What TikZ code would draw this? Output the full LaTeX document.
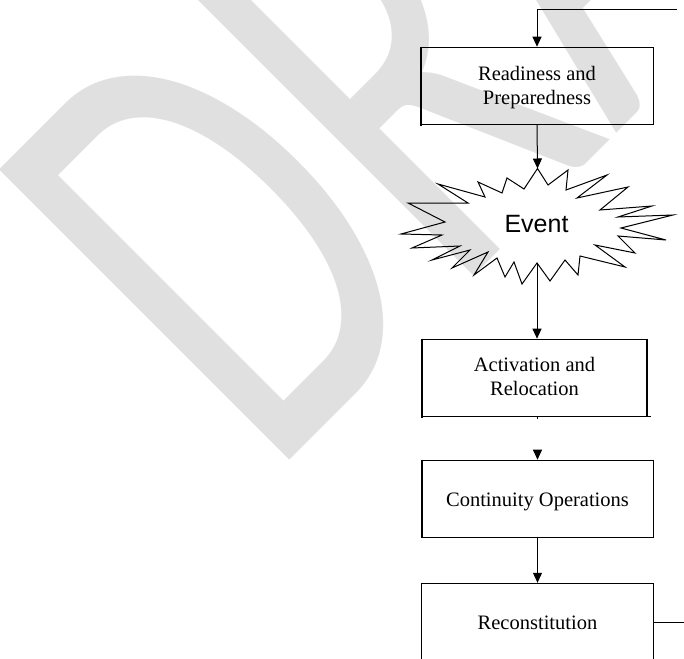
\documentclass[tikz,border=0pt]{standalone}
\usepackage{fontspec}
\setmainfont{Liberation Serif}
\newfontfamily\labelsans{Liberation Sans}
\newfontfamily\stampfont{Carlito}
\usetikzlibrary{arrows.meta}
\definecolor{stampgray}{RGB}{224,224,224}
% a line of box text lowered by #1, taking no vertical room
\newcommand{\sinkline}[2]{\raisebox{-#1}[0pt][0pt]{#2}}
\begin{document}
\begin{tikzpicture}[x=1pt,y=-1pt,
  stage/.style={draw, line width=1pt, minimum width=232pt, minimum height=77pt,
    inner sep=0pt, align=center, font=\fontsize{20.5}{23.5}\selectfont},
  flow/.style={line width=1pt, -{Triangle[length=10pt,width=9pt]}},
  wire/.style={line width=1pt},
  heavy/.style={line width=2.2pt}]
\useasboundingbox (0,0) rectangle (684,658);
\clip (0,0) rectangle (684,658);

% watermark behind everything
\node[anchor=base west, inner sep=0pt, rotate=45, text=stampgray,
  font=\stampfont\fontsize{640}{640}\selectfont] (stamp) at (269,481)
  {\scalebox{0.66}[1]{DRAFT}};

% process stages
\node[stage] (ready) at (537,85.7)
  {\sinkline{7pt}{Readiness and}\\\sinkline{7pt}{Preparedness}};
\node[stage, minimum width=225.6pt] (act) at (534.5,377.7)
  {\sinkline{6pt}{Activation and}\\\sinkline{6.5pt}{Relocation}};
\node[stage] (cont) at (537.5,498.7) {\sinkline{8pt}{Continuity Operations}};
\node[stage] (recon) at (537.5,621.8) {\sinkline{7.5pt}{Reconstitution}};

% heavier box sides
\draw[heavy] ([xshift=0.6pt]ready.north west) -- ([xshift=0.6pt,yshift=-1.5pt]ready.south west);
\draw[heavy] ([xshift=0.6pt]act.north west) -- ([xshift=0.6pt,yshift=-1.5pt]act.south west);
\draw[heavy] ([xshift=-0.6pt]act.north east) -- ([xshift=-0.6pt]act.south east);
\draw[wire] (act.south east) -- ++(3,0);
\draw[heavy] ([xshift=0.6pt]cont.north west) -- ([xshift=0.6pt]cont.south west);

% event burst
\draw[wire, line join=miter]
  (537.5,168.5) -- (548,185) -- (568,170) -- (566,190) -- (607,175) -- (577,198)
  -- (628,187) -- (600,210) -- (652,206) -- (618,217) -- (673,215) -- (621,228)
  -- (666,240) -- (618,236) -- (635,253) -- (595,245) -- (625,267) -- (580,256)
  -- (578,275) -- (565,260) -- (550,281) -- (537,263) -- (522,284) -- (514,262)
  -- (505,277) -- (497,258) -- (474,275) -- (488,252) -- (452,268) -- (470,250)
  -- (432,260) -- (460,246) -- (412,248) -- (442,235) -- (401,234) -- (445,222)
  -- (408,203) -- (468,203) -- (438,184) -- (485,197) -- (478,182) -- (502,193)
  -- (507,178) -- (524,189) -- cycle;
\node[font=\labelsans\fontsize{25}{25}\selectfont, inner sep=0pt] (ev) at (536.5,224.3) {Event};

% connectors
\coordinate (loopin) at (677,9.3);
\coordinate (evtop) at (537.5,168.5);
\coordinate (evbot) at (537,263);
\coordinate (gap) at (537.5,450);
\coordinate (loopout) at (684,622.7);
\draw[flow] (loopin) -| (ready.north);
\draw[flow] (ready.south) -- (evtop);
\draw[flow] (evbot) -- (evbot |- act.north);
\draw[wire] (act.south -| gap) -- ++(0,2.5);
\draw[flow] (gap) -- (cont.north);
\draw[flow] (cont.south) -- (recon.north);
\draw[wire] (recon.east |- loopout) -- (loopout);
\end{tikzpicture}
\end{document}
